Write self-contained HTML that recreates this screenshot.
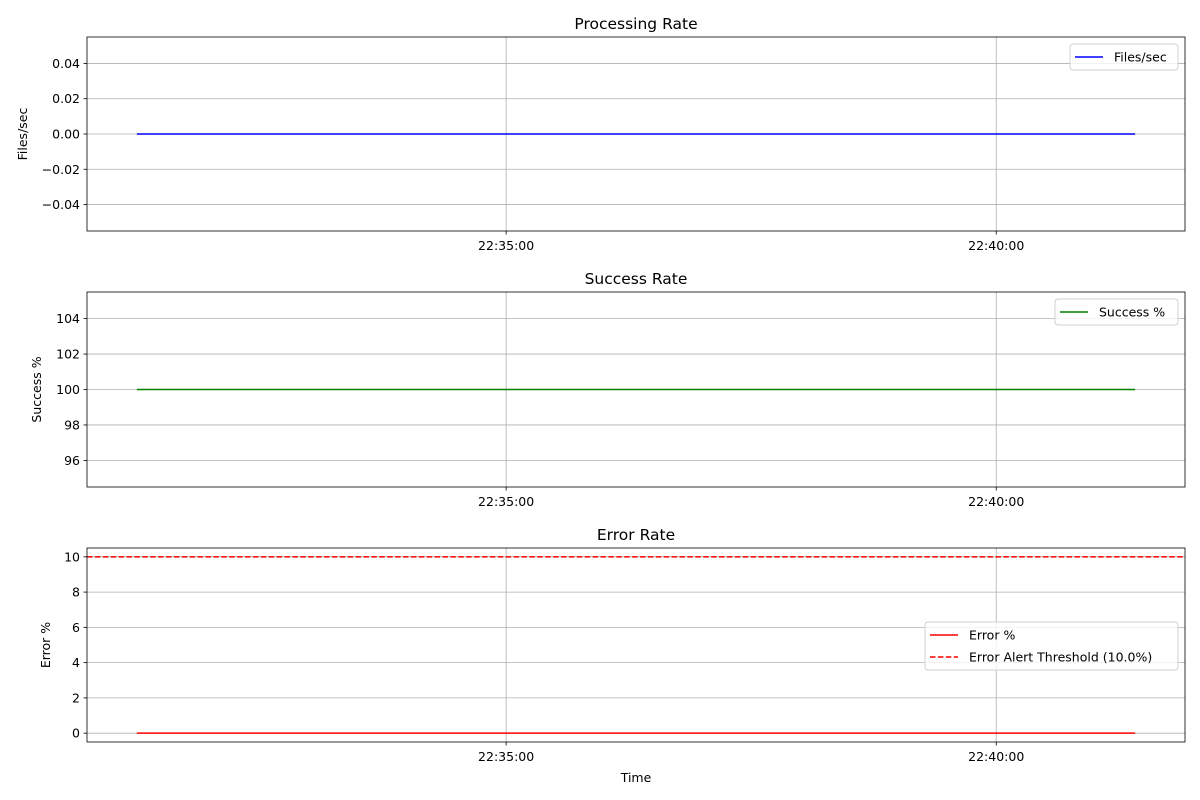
<!DOCTYPE html>
<html><head><meta charset="utf-8"><style>
html,body{margin:0;padding:0;background:#fff;}
svg{display:block;font-family:"DejaVu Sans","Liberation Sans",sans-serif;}
</style></head><body>
<svg id="c" width="1200" height="800"></svg>
<script>
// time in seconds since 22:30:00
const timeStart = 74;
const timeEnd = 685;
const xTickValues = [300, 600];
const xTickLabels = ["22:35:00", "22:40:00"];
const processingValues = [0, 0];
const successValues = [100, 100];
const errorValues = [0, 0];
const errorThreshold = 10;
const p1Ticks = [-0.04, -0.02, 0.00, 0.02, 0.04];
const p1Labels = ["\u22120.04", "\u22120.02", "0.00", "0.02", "0.04"];
const p2Ticks = [96, 98, 100, 102, 104];
const p3Ticks = [0, 2, 4, 6, 8, 10];

const NS = "http://www.w3.org/2000/svg";
const svg = document.getElementById('c');
function mk(tag, attrs, parent, text) {
  const e = document.createElementNS(NS, tag);
  for (const k in attrs) e.setAttribute(k, attrs[k]);
  if (text !== undefined) e.textContent = text;
  (parent || svg).appendChild(e);
  return e;
}
const L = 87, R = 1185;
const span = timeEnd - timeStart;
const tmin = timeStart - span * 0.05, tmax = timeEnd + span * 0.05;
function xs(t) { return L + (t - tmin) / (tmax - tmin) * (R - L); }

function panel(cfg) {
  const g = mk('g', {});
  
  
  const ys = v => cfg.bot - (v - cfg.ymin) / (cfg.ymax - cfg.ymin) * (cfg.bot - cfg.top);
  xTickValues.forEach((t, i) => {
    const l = mk('line', {x1: xs(t), x2: xs(t), y1: cfg.top, y2: cfg.bot, stroke: '#b0b0b0', 'stroke-width': 0.8}, g);
    
    
    mk('line', {x1: xs(t), x2: xs(t), y1: cfg.bot, y2: cfg.bot + 3.5, stroke: '#000', 'stroke-width': 0.8}, g);
    const tx = mk('text', {x: xs(t), y: cfg.bot + 19, 'text-anchor': 'middle', 'font-size': 12.5}, g, xTickLabels[i]);
    
    
  });
  cfg.ticks.forEach((v, i) => {
    const y = ys(v);
    mk('line', {x1: L, x2: R, y1: y, y2: y, stroke: '#b0b0b0', 'stroke-width': 0.8}, g);
    mk('line', {x1: L - 3.5, x2: L, y1: y, y2: y, stroke: '#000', 'stroke-width': 0.8}, g);
    const tx = mk('text', {x: L - 7, y: y + 4.5, 'text-anchor': 'end', 'font-size': 12.5}, g, cfg.labels ? cfg.labels[i] : String(v));
    
    
  });
  if (cfg.threshold !== undefined) {
    const th = mk('line', {x1: L, x2: R, y1: ys(cfg.threshold), y2: ys(cfg.threshold), stroke: '#ff0000', 'stroke-width': 1.5, 'stroke-dasharray': '5.5,2.4'}, g);
    
    
  }
  const times = [timeStart, timeEnd];
  const pts = cfg.values.map((v, i) => xs(times[i]) + ',' + ys(v)).join(' ');
  const pl = mk('polyline', {points: pts, fill: 'none', stroke: cfg.color, 'stroke-width': 1.5}, g);
  
  
  mk('rect', {x: L, y: cfg.top, width: R - L, height: cfg.bot - cfg.top, fill: 'none', stroke: '#000', 'stroke-width': 0.8}, g);
  const ti = mk('text', {x: (L + R) / 2, y: cfg.top - 8, 'text-anchor': 'middle', 'font-size': 15.5}, g, cfg.title);
  
  
  const cy = (cfg.top + cfg.bot) / 2;
  const yl = mk('text', {x: cfg.ylx, y: cy, 'text-anchor': 'middle', 'font-size': 12.5, transform: `rotate(-90 ${cfg.ylx} ${cy})`}, g, cfg.ylabel);
  
  
  const lg = mk('g', {}, g);
  
  
  mk('rect', {x: cfg.lx, y: cfg.ly, width: R - 7 - cfg.lx, height: cfg.entries.length * 22 + 4, rx: 3, fill: '#fff', 'fill-opacity': 0.8, stroke: '#d0d0d0'}, lg);
  cfg.entries.forEach((e, i) => {
    const y = cfg.ly + 13 + i * 22;
    mk('line', {x1: cfg.lx + 5, x2: cfg.lx + 33, y1: y, y2: y, stroke: e.color, 'stroke-width': 1.5, 'stroke-dasharray': e.dash || 'none'}, lg);
    const t = mk('text', {x: cfg.lx + 44, y: y + 4.5, 'font-size': 12.5}, lg, e.label);
    
    
  });
}

panel({name: 'processing-rate-panel', title: 'Processing Rate', top: 37, bot: 231, ymin: -0.055, ymax: 0.055,
  ticks: p1Ticks, labels: p1Labels, values: processingValues, color: '#0000ff', seriesName: 'files-per-sec-line',
  ylabel: 'Files/sec', ylx: 27, lx: 1070, ly: 44, entries: [{label: 'Files/sec', color: '#0000ff'}]});
panel({name: 'success-rate-panel', title: 'Success Rate', top: 292, bot: 487, ymin: 94.5, ymax: 105.5,
  ticks: p2Ticks, values: successValues, color: '#008000', seriesName: 'success-line',
  ylabel: 'Success %', ylx: 41, lx: 1055, ly: 299, entries: [{label: 'Success %', color: '#008000'}]});
panel({name: 'error-rate-panel', title: 'Error Rate', top: 548, bot: 742, ymin: -0.5, ymax: 10.5,
  ticks: p3Ticks, values: errorValues, color: '#ff0000', seriesName: 'error-line', threshold: errorThreshold,
  ylabel: 'Error %', ylx: 50, lx: 925, ly: 622, entries: [{label: 'Error %', color: '#ff0000'}, {label: 'Error Alert Threshold (10.0%)', color: '#ff0000', dash: '5.5,2.4'}]});
const xt = mk('text', {x: 636, y: 782, 'text-anchor': 'middle', 'font-size': 12.5}, svg, 'Time');


</script>
</body></html>
